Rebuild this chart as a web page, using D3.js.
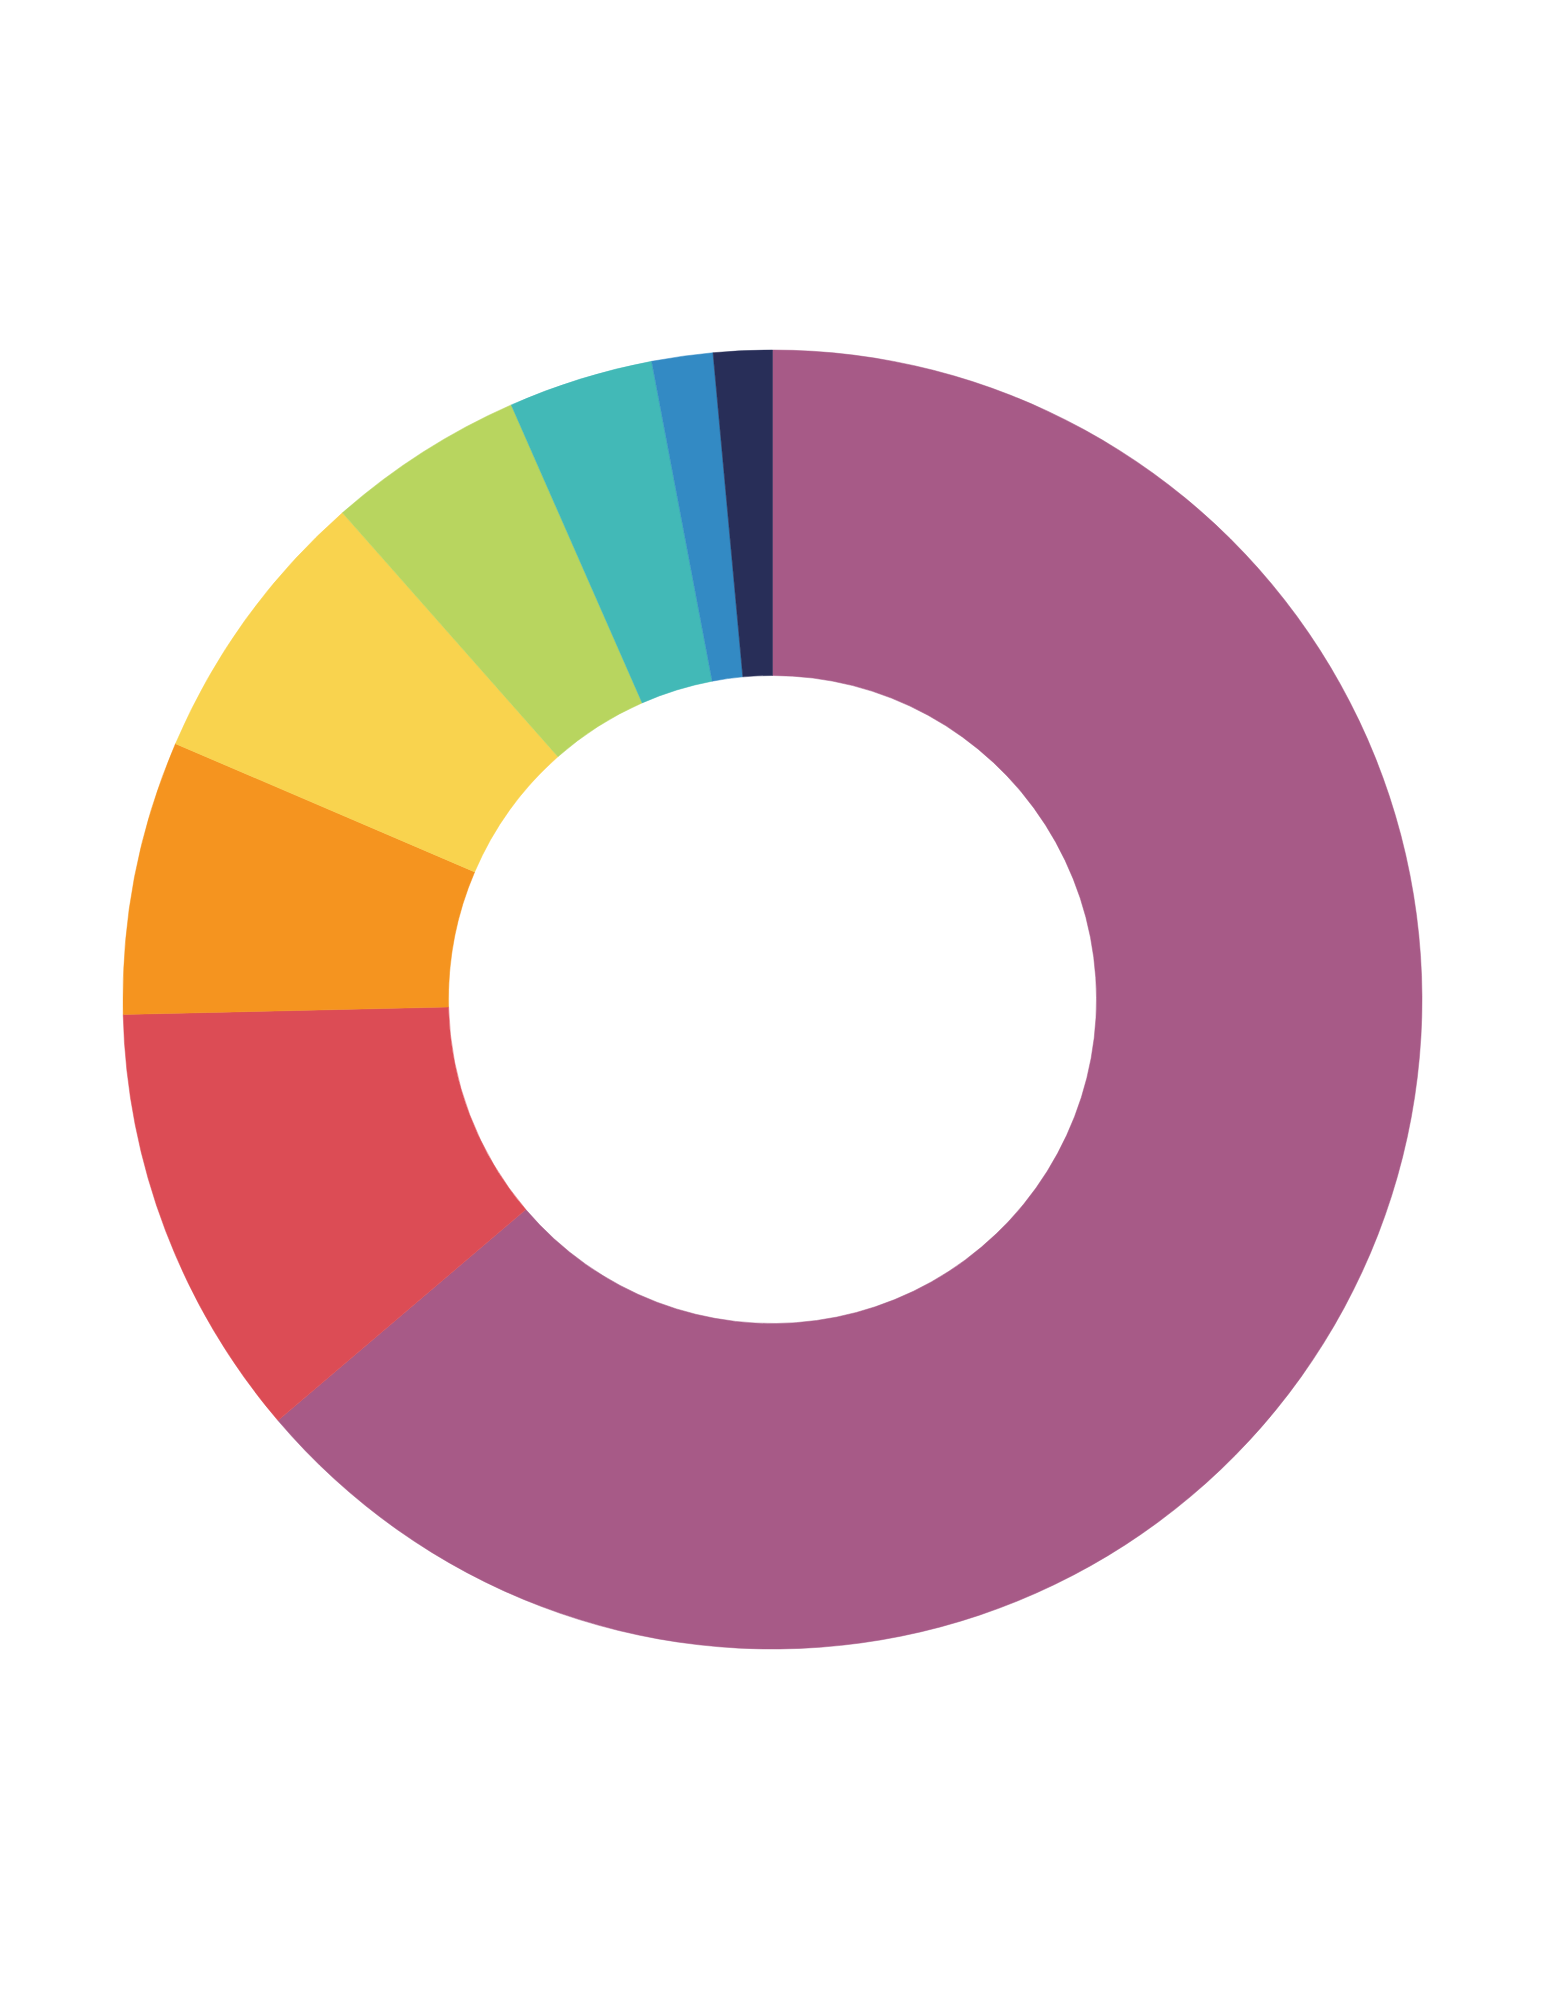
<!DOCTYPE html>
<html>
<head>
<meta charset="utf-8">
<script src="https://cdn.jsdelivr.net/npm/d3@7"></script>
<style>
  html, body { margin: 0; padding: 0; background: #fff; }
  svg { display: block; }
</style>
</head>
<body>
<svg width="1545" height="2000"></svg>
<script>
// slices in clockwise order starting at 12 o'clock (percent of total)
const categories = ['A', 'B', 'C', 'D', 'E', 'F', 'G', 'H'];
const values = [63.78, 10.86, 6.81, 7.04, 4.93, 3.61, 1.52, 1.46];
const colors = ['#a75a87', '#dc4c55', '#f5941f', '#f9d34e', '#b8d55f', '#42b9b7', '#338ac4', '#282e58'];

let svg = d3.select("svg"),
    cx = 772.5,
    cy = 999.5,
    outerRadius = 649.5,
    innerRadius = 324;

let pie = d3.pie()
    .sort(null)
    .value(function (d) { return d.value; });

let arc = d3.arc()
    .innerRadius(innerRadius)
    .outerRadius(outerRadius);

let color = d3.scaleOrdinal()
    .domain(categories)
    .range(colors);

let data = categories.map(function (c, i) {
    return { name: c, value: values[i] };
});

let g = svg.append("g")
    .attr("transform", "translate(" + cx + "," + cy + ")");

g.selectAll("path")
    .data(pie(data))
    .enter().append("path")
    .attr("d", arc)
    .attr("fill", function (d) { return color(d.data.name); })
    .attr("stroke", function (d) { return color(d.data.name); })
    .attr("stroke-width", 0.5);
</script>
</body>
</html>
